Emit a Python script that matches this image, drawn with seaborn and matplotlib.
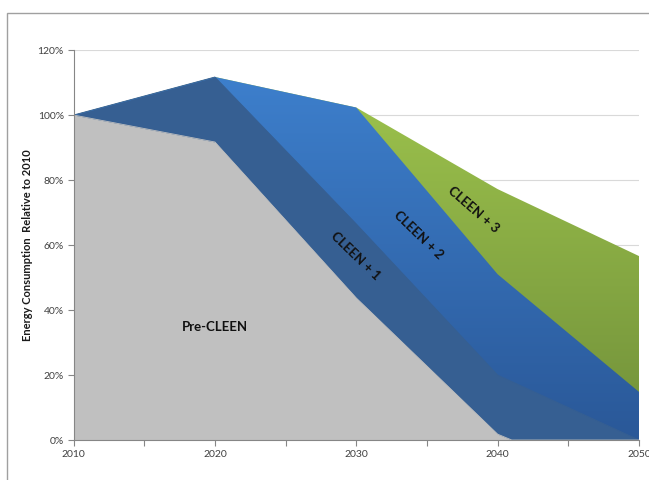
import numpy as np
import matplotlib
matplotlib.use("Agg")
import matplotlib.pyplot as plt
import seaborn as sns
from matplotlib.colors import LinearSegmentedColormap
from matplotlib.patches import Rectangle
from matplotlib.ticker import MultipleLocator, FuncFormatter

# Energy consumption relative to 2010 (%) for each technology scenario
years = [2010, 2020, 2030, 2040, 2050]
pre_years = [2010, 2020, 2030, 2040, 2041, 2050]
pre_cleen = [100, 91.7, 43.7, 1.8, 0, 0]
cleen_1 = [100, 111.7, 66.5, 20, 0]
cleen_2 = [100, 111.7, 102.3, 51, 14.8]
cleen_3 = [100, 111.7, 102.3, 77.2, 56.6]

y_ticks = [0, 20, 40, 60, 80, 100, 120]
x_labels = [2010, 2020, 2030, 2040, 2050]

series_labels = ["Pre-CLEEN", "CLEEN + 1", "CLEEN + 2", "CLEEN + 3"]

sns.set_theme(style="white")
plt.rcParams["font.family"] = ["Lato", "DejaVu Sans"]

fig = plt.figure(figsize=(6.49, 4.8), dpi=100)
ax = fig.add_axes([0.1133, 0.0833, 0.8713, 0.8125])


def gradient_area(ax, x, y, top_color, bottom_color, zorder):
    """Area from y down to zero, filled with a vertical colour gradient."""
    poly = ax.fill_between(x, y, 0, facecolor="none", lw=0, zorder=zorder)
    cmap = LinearSegmentedColormap.from_list("grad", [bottom_color, top_color])
    grad = np.linspace(0, 1, 256).reshape(-1, 1)
    im = ax.imshow(grad, cmap=cmap, origin="lower", aspect="auto",
                   extent=[min(x), max(x), 0, max(y)], zorder=zorder,
                   interpolation="bilinear")
    im.set_clip_path(poly.get_paths()[0], transform=ax.transData)
    return im


# Overlapping areas, largest scenario at the back
gradient_area(ax, years, cleen_3, "#9EC44D", "#71903A", zorder=1)
gradient_area(ax, years, cleen_2, "#3D7FCC", "#2A5898", zorder=2)

ax.fill_between(years, cleen_1, 0, color="#365F92", lw=0, zorder=3)
sns.lineplot(x=years, y=cleen_1, ax=ax, color="#365F92", lw=0.6, zorder=3)

ax.fill_between(pre_years, pre_cleen, 0, color="#C0C0C0", lw=0, zorder=4)
sns.lineplot(x=pre_years, y=pre_cleen, ax=ax, color="#C0C0C0", lw=0.6, zorder=4)

ax.set_xlim(2010, 2050)
ax.set_ylim(0, 120)

# Axes styling
ax.set_yticks(y_ticks)
ax.yaxis.set_major_formatter(FuncFormatter(lambda v, _: f"{v:.0f}%"))
ax.xaxis.set_major_locator(MultipleLocator(5))
ax.xaxis.set_major_formatter(
    FuncFormatter(lambda v, _: f"{v:.0f}" if round(v) in x_labels else ""))

ax.grid(axis="y", color="#D9D9D9", lw=0.8, zorder=0)
ax.set_axisbelow(True)
for side in ("top", "right"):
    ax.spines[side].set_visible(False)
for side in ("left", "bottom"):
    ax.spines[side].set_color("#868686")
    ax.spines[side].set_linewidth(0.8)
    ax.spines[side].set_zorder(6)

ax.tick_params(axis="both", which="major", direction="out", length=4,
               width=0.8, color="#868686", labelsize=7.5, labelcolor="#404040",
               left=True, bottom=True, pad=3)

ax.set_ylabel("Energy Consumption  Relative to 2010", fontsize=8,
              fontweight="bold", color="#1a1a1a", labelpad=3)

# Scenario labels
label_kw = dict(fontsize=9.5, fontweight="bold", color="#111111",
                ha="center", va="center", zorder=7)
ax.text(2020.0, 34.8, series_labels[0], rotation=0, **label_kw)
ax.text(2029.96, 56.6, series_labels[1], rotation=-44, **label_kw)
ax.text(2034.4, 63.0, series_labels[2], rotation=-44, **label_kw)
ax.text(2038.3, 71.0, series_labels[3], rotation=-41, **label_kw)

# Chart-area frame
fig.patches.append(Rectangle((7 / 649, -0.1), 1.2, 1.1 - 12.5 / 480,
                             transform=fig.transFigure, fill=False,
                             edgecolor="#A0A0A0", lw=1.0))

fig.savefig("out.png", dpi=100)
